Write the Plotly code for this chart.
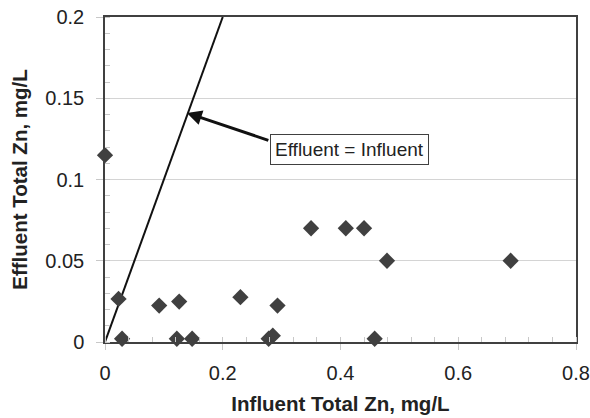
import plotly.graph_objects as go

# influent vs effluent total zinc, mg/L
influent = [0.0, 0.023, 0.029, 0.092, 0.126, 0.122, 0.148, 0.230, 0.293, 0.278, 0.285,
            0.350, 0.409, 0.440, 0.479, 0.689, 0.458]
effluent = [0.115, 0.0265, 0.002, 0.0224, 0.0249, 0.002, 0.002, 0.0276, 0.0224, 0.002, 0.0039,
            0.070, 0.070, 0.070, 0.050, 0.050, 0.002]

# 1:1 line
line_x = [0, 0.2]
line_y = [0, 0.2]

x_ticks = [0, 0.2, 0.4, 0.6, 0.8]
x_labels = ["0", "0.2", "0.4", "0.6", "0.8"]
y_ticks = [0, 0.05, 0.1, 0.15, 0.2]
y_labels = ["0", "0.05", "0.1", "0.15", "0.2"]

font = "Liberation Sans, Arial, sans-serif"
axcol = "#404040"

fig = go.Figure()
fig.add_trace(go.Scatter(x=line_x, y=line_y, mode="lines",
                         line=dict(color="#111111", width=2), showlegend=False))
fig.add_trace(go.Scatter(x=influent, y=effluent, mode="markers",
                         marker=dict(symbol="diamond", size=12.5, color="#404040"),
                         cliponaxis=False, showlegend=False))

# arrow pointing at the line
fig.add_annotation(x=0.139, y=0.141, ax=0.28, ay=0.1238, xref="x", yref="y",
                   axref="x", ayref="y", text="", showarrow=True,
                   arrowhead=2, arrowsize=1, arrowwidth=3, arrowcolor="#111111")
fig.add_annotation(x=0.416, y=0.1187, xref="x", yref="y", text="Effluent = Influent",
                   showarrow=False, font=dict(family=font, size=19, color="#222222"),
                   bgcolor="white", bordercolor=axcol, borderwidth=1, borderpad=4)

fig.update_xaxes(range=[0, 0.8], tickvals=x_ticks, ticktext=x_labels,
                 showline=True, linecolor=axcol, linewidth=1.5, mirror=True,
                 showgrid=False, zeroline=False, automargin=False,
                 ticks="outside", ticklen=6, tickcolor="#c8c8c8",
                 ticklabelstandoff=6,
                 minor=dict(dtick=0.04, ticks="inside", ticklen=5, tickcolor="#c8c8c8"),
                 tickfont=dict(family=font, size=20, color="#222222"),
                 title=dict(text="<b>Influent Total Zn, mg/L</b>", standoff=14,
                            font=dict(family=font, size=20.5, color="#222222")))
fig.update_yaxes(range=[0, 0.2], tickvals=y_ticks, ticktext=y_labels,
                 showline=True, linecolor=axcol, linewidth=1.5, mirror=True,
                 showgrid=True, gridcolor="#d4d4d4", gridwidth=1, zeroline=False,
                 automargin=False,
                 ticks="outside", ticklen=7, tickcolor="#c8c8c8",
                 ticklabelstandoff=8,
                 minor=dict(dtick=0.01, ticks="inside", ticklen=5, tickcolor="#c8c8c8"),
                 tickfont=dict(family=font, size=20, color="#222222"),
                 title=dict(text="<b>Effluent Total Zn, mg/L</b>", standoff=12,
                            font=dict(family=font, size=20.5, color="#222222")))

fig.update_layout(width=590, height=418, margin=dict(l=105, r=14, t=17, b=76),
                  plot_bgcolor="white", paper_bgcolor="white")

# page body has a default 8px margin, drop it so the chart sits at 0,0
fig.write_html("out.html", config={"displayModeBar": False},
               post_script="document.body.style.margin='0px';")
